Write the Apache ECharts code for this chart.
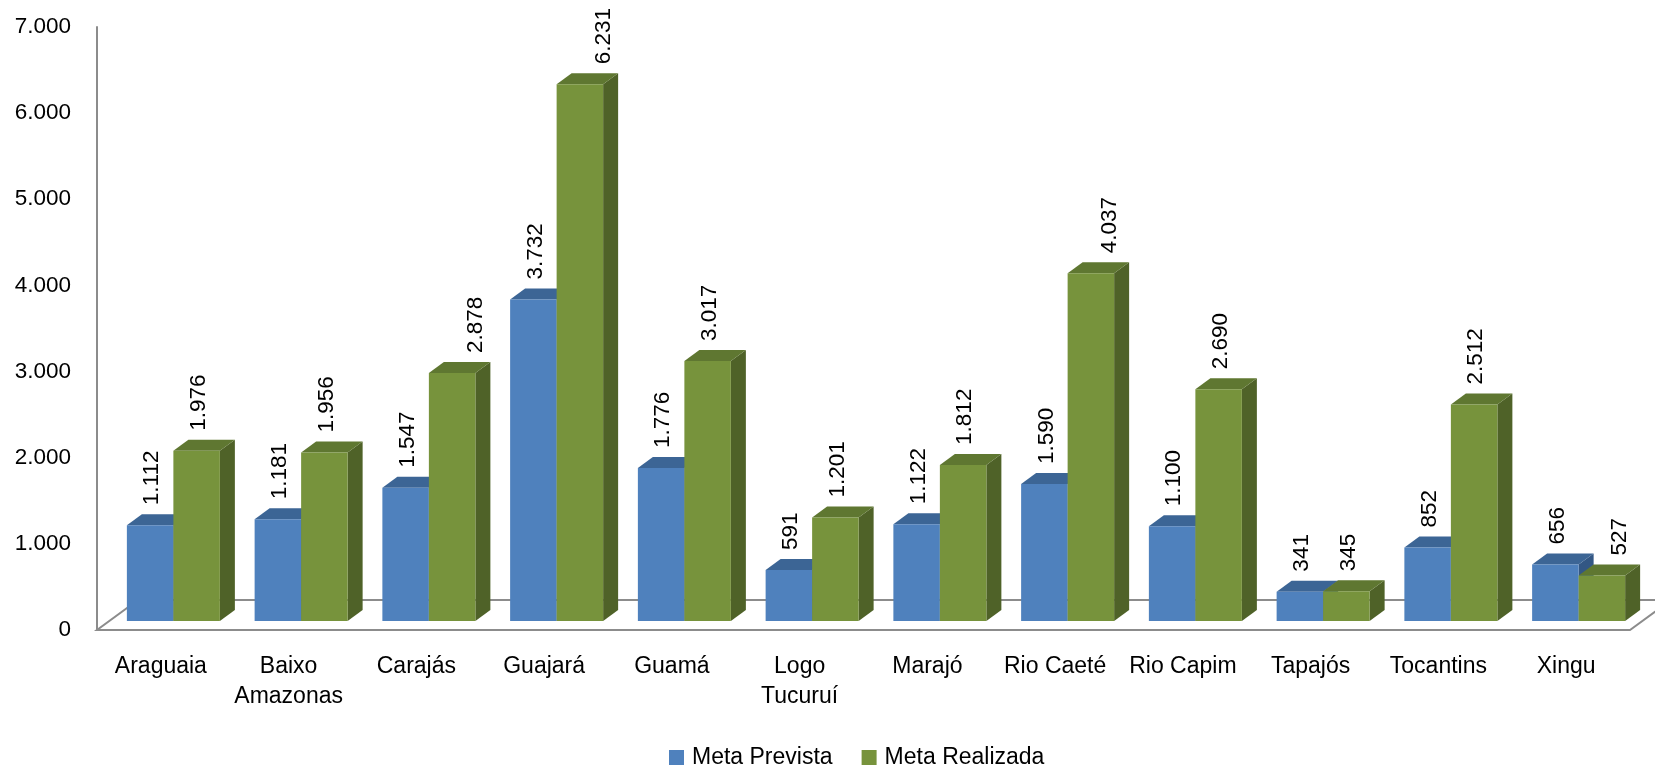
<!DOCTYPE html>
<html>
<head>
<meta charset="utf-8">
<title>Meta Prevista x Meta Realizada</title>
<script src="https://cdn.jsdelivr.net/npm/echarts@6/dist/echarts.min.js"></script>
<style>
  html, body { margin: 0; padding: 0; background: #ffffff; }
  #chart { width: 1655px; height: 770px; }
</style>
</head>
<body>
<div id="chart"></div>
<script>
// Regions and their targets
const categories = ['Araguaia', 'Baixo\nAmazonas', 'Carajás', 'Guajará', 'Guamá', 'Logo\nTucuruí',
  'Marajó', 'Rio Caeté', 'Rio Capim', 'Tapajós', 'Tocantins', 'Xingu'];
const metaPrevista = [1112, 1181, 1547, 3732, 1776, 591, 1122, 1590, 1100, 341, 852, 656];
const metaRealizada = [1976, 1956, 2878, 6231, 3017, 1201, 1812, 4037, 2690, 345, 2512, 527];
const yMin = 0, yMax = 7000, yStep = 1000;

const FONT = '"Liberation Sans", Arial, sans-serif';

// thousands separator with a dot
function fmt(v) {
  return String(Math.round(v)).replace(/\B(?=(\d{3})+(?!\d))/g, '.');
}

// 3D look: front plane offset of the bars, bar depth and floor depth (px)
const PLANE = { dx: 12.5, dy: -9 };
const DEPTH = { dx: 15, dy: -11 };
const FLOOR = { dx: 41, dy: -30 };

// a few value labels sit shifted to the right of their bar (px, by category index)
const labelShift = [{}, { 2: 22, 3: 22, 7: 17, 11: 16 }];

const palettes = [
  { front: '#4f81bd', top: '#3c6595', side: '#335784' },
  { front: '#77933c', top: '#5f7731', side: '#4f6228' }
];

function barRenderer(which) {
  return function (params, api) {
    const idx = api.value(0);
    const v = api.value(1);
    const band = api.size([1, 0])[0];
    const barW = band * 0.364;
    const top = api.coord([idx, v]);
    const base = api.coord([idx, 0]);
    const cx = top[0] + PLANE.dx;
    const x0 = which === 0 ? cx - barW : cx;
    const x1 = x0 + barW;
    const yT = top[1] + PLANE.dy;
    const yB = base[1] + PLANE.dy;
    const p = palettes[which];
    const shift = labelShift[which][idx] || 0;
    return {
      type: 'group',
      children: [
        { type: 'polygon', shape: { points: [[x1, yT], [x1 + DEPTH.dx, yT + DEPTH.dy], [x1 + DEPTH.dx, yB + DEPTH.dy], [x1, yB]] },
          style: { fill: p.side } },
        { type: 'polygon', shape: { points: [[x0, yT], [x1, yT], [x1 + DEPTH.dx, yT + DEPTH.dy], [x0 + DEPTH.dx, yT + DEPTH.dy]] },
          style: { fill: p.top } },
        { type: 'rect', shape: { x: x0, y: yT, width: barW, height: yB - yT },
          style: { fill: p.front } },
        { type: 'text', x: (x0 + x1) / 2 + 2 + shift, y: yT - 20, rotation: Math.PI / 2,
          style: { text: fmt(v), fill: '#000', font: '22.5px ' + FONT, align: 'left', verticalAlign: 'middle' } }
      ]
    };
  };
}

function floorRenderer(params, api) {
  const band = api.size([1, 0])[0];
  const first = api.coord([0, 0]);
  const last = api.coord([categories.length - 1, 0]);
  const xl = first[0] - band / 2;
  const xr = last[0] + band / 2;
  const y = first[1];
  return {
    type: 'polygon',
    shape: { points: [[xl, y], [xr, y], [xr + FLOOR.dx, y + FLOOR.dy], [xl + FLOOR.dx, y + FLOOR.dy]] },
    style: { fill: '#ffffff', stroke: '#8c8c8c', lineWidth: 2 }
  };
}

const chart = echarts.init(document.getElementById('chart'), null, { renderer: 'canvas' });

chart.setOption({
  animation: false,
  backgroundColor: '#ffffff',
  grid: { left: 97, right: 25, top: 27, bottom: 140 },
  legend: {
    data: ['Meta Prevista', 'Meta Realizada'],
    left: 664, top: 741,
    icon: 'rect', itemWidth: 15, itemHeight: 15, itemGap: 29,
    textStyle: { fontFamily: FONT, fontSize: 23, color: '#000', padding: [0, 0, 0, 3] }
  },
  xAxis: {
    type: 'category',
    data: categories,
    axisLine: { show: false },
    axisTick: { show: false },
    axisLabel: { fontFamily: FONT, fontSize: 23, color: '#000', margin: 22, lineHeight: 30, interval: 0 }
  },
  yAxis: {
    type: 'value',
    min: yMin, max: yMax, interval: yStep,
    splitLine: { show: false },
    axisTick: { show: false },
    axisLine: { show: true, lineStyle: { color: '#8c8c8c', width: 2 } },
    axisLabel: { fontFamily: FONT, fontSize: 22.5, color: '#000', margin: 26, formatter: fmt }
  },
  series: [
    { name: 'floor', type: 'custom', renderItem: floorRenderer, data: [[0, 0]], clip: false, silent: true, z: 1 },
    { name: 'Meta Prevista', type: 'custom', renderItem: barRenderer(0), itemStyle: { color: palettes[0].front },
      data: metaPrevista.map((v, i) => [i, v]), clip: false, z: 2 },
    { name: 'Meta Realizada', type: 'custom', renderItem: barRenderer(1), itemStyle: { color: palettes[1].front },
      data: metaRealizada.map((v, i) => [i, v]), clip: false, z: 3 }
  ]
});
</script>
</body>
</html>
